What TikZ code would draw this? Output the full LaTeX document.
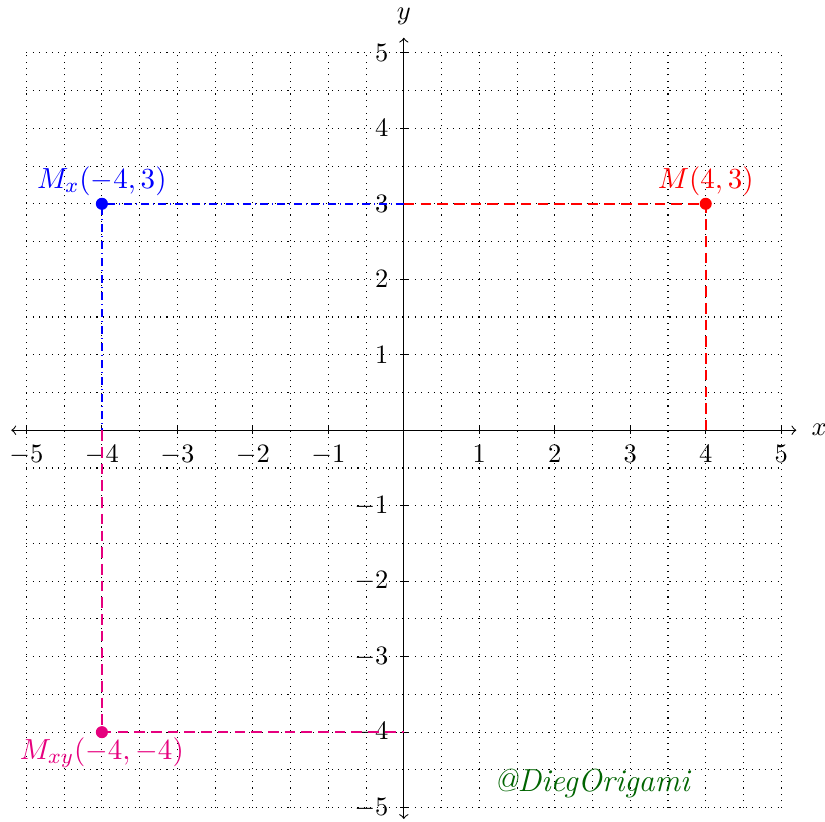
\documentclass[tikz,border=0pt]{standalone}
\usepackage{amsmath, amssymb}
\usepackage{xcolor}
\usetikzlibrary{positioning}
\definecolor{pt-red}{HTML}{FF0000}
\definecolor{pt-blue}{HTML}{0000FF}
\definecolor{pt-magenta}{HTML}{E6007E}
\definecolor{sign-green}{HTML}{006400}

\begin{document}
\begin{tikzpicture}[every node/.style={font=\normalsize},
    dot/.style={circle, fill, inner sep=0pt, minimum size=0.16cm},
    ptlabel/.style={font=\fontsize{11.3}{13}\selectfont},
    longdash/.style={dash pattern=on 4pt off 2.3pt, line width=0.65pt},
    longdashdot/.style={dash pattern=on 3pt off 1.5pt on 0.4pt off 1.5pt, line width=0.65pt}]
    \useasboundingbox (-5.35, -5.18) rectangle (5.58, 5.70);
    \draw[dotted] (-5, -5) grid[step=0.5] (5, 5);
    % axes
    \coordinate (xl) at (-5.2, 0);
    \coordinate (xr) at (5.2, 0);
    \coordinate (yb) at (0, -5.15);
    \coordinate (yt) at (0, 5.2);
    \draw[<->] (xl) -- (xr);
    \draw[<->] (yb) -- (yt);
    \node[anchor=west] (xname) at (5.28, 0) {$x$};
    \node[anchor=south] (yname) at (0, 5.25) {$y$};
    \foreach \k in {-5,...,-1,1,2,...,5} {
      \draw (\k, 0.05) -- (\k, -0.05);
      \draw (0.05, \k) -- (-0.05, \k);
      \node[anchor=north] (xt\k) at (\k, -0.08) {$\k$};
      \node[anchor=east] (yt\k) at (-0.08, \k) {$\k$};
    }
    % points
    \coordinate (y3) at (0, 3);
    \coordinate (y4) at (0, -4);
    \coordinate (x4) at (4, 0);
    \coordinate (xm4) at (-4, 0);
    \draw[longdash, draw=pt-red] (y3) -- (4, 3) -- (x4);
    \draw[longdashdot, draw=pt-blue] (y3) -- (-4, 3) -- (xm4);
    \draw[longdash, draw=pt-magenta] (xm4) -- (-4, -4) -- (y4);
    \node[dot, fill=pt-red] (M) at (4, 3) {};
    \node[dot, fill=pt-blue] (Mx) at (-4, 3) {};
    \node[dot, fill=pt-magenta] (Mxy) at (-4, -4) {};
    \node[ptlabel, text=pt-red, above=-0.1cm of M] (Mlab) {$M(4,3)$};
    \node[ptlabel, text=pt-blue, above=-0.1cm of Mx] (Mxlab) {$M_x(-4,3)$};
    \node[ptlabel, text=pt-magenta, below=-0.14cm of Mxy] (Mxylab) {$M_{xy}(-4,-4)$};
    \node[font=\large, text=sign-green] (sign) at (2.5, -4.68) {\textit{@DiegOrigami}};
  \end{tikzpicture}
\end{document}
